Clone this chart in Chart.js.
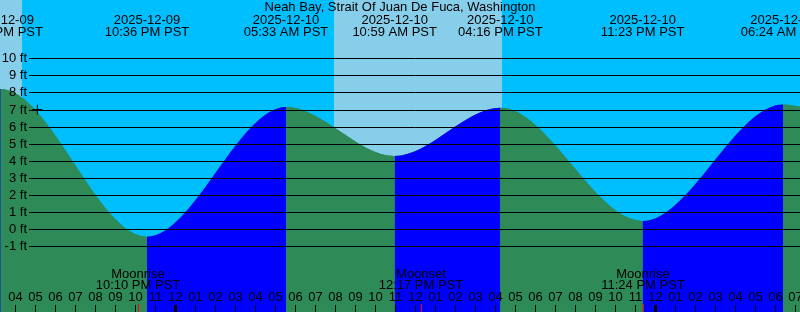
<!DOCTYPE html>
<html>
<head>
<meta charset="utf-8">
<script src="https://cdn.jsdelivr.net/npm/chart.js@4.4.0/dist/chart.umd.min.js"></script>
<style>
  html, body { margin: 0; padding: 0; background: #00bfff; }
  #wrap { width: 800px; height: 312px; }
</style>
</head>
<body>
<div id="wrap"><canvas id="tide"></canvas></div>
<script>
// hours counted from 2025-12-10 00:00 PST
const tideHours = [-14.0, -8.717, -1.40, 5.55, 10.983, 16.267, 23.383, 30.40, 35.8];
const tideFeet  = [4.0, 8.2, -0.44, 7.15, 4.28, 7.1, 0.48, 7.3, 4.2];
const tideDates = ['2025-12-09', '2025-12-09', '2025-12-09', '2025-12-10', '2025-12-10',
                   '2025-12-10', '2025-12-10', '2025-12-11', '2025-12-11'];
const tideTimes = ['10:00 AM PST', '03:17 PM PST', '10:36 PM PST', '05:33 AM PST', '10:59 AM PST',
                   '04:16 PM PST', '11:23 PM PST', '06:24 AM PST', '11:48 AM PST'];

// daylight (sunrise -> sunset)
const dayStarts = [-16.05, 7.95];
const dayEnds   = [-7.65, 16.35];

const moonHours  = [-1.833, 12.283, 23.40];
const moonEvents = ['Moonrise', 'Moonset', 'Moonrise'];
const moonTimes  = ['10:10 PM PST', '12:17 PM PST', '11:24 PM PST'];

const feetTicks = [-1, 0, 1, 2, 3, 4, 5, 6, 7, 8, 9, 10];

const nowHour = -6.88;
const nowFeet = 7.0;

const title = 'Neah Bay, Strait Of Juan De Fuca, Washington';

const NIGHT = '#00bfff', DAY = '#87ceeb';
const FALLING = '#2e8b57', RISING = '#0000ff';
const FONT = '13px "Liberation Sans"';

function hourLabel(h) {
  const hh = ((h % 24) + 24) % 24;
  const h12 = hh % 12 === 0 ? 12 : hh % 12;
  return String(h12).padStart(2, '0');
}

const tidePoints = tideHours.map((h, i) => ({ x: h, y: tideFeet[i] }));

const decor = {
  id: 'decor',
  beforeDatasetsDraw(chart) {
    const { ctx, chartArea: a, scales: { x } } = chart;
    ctx.save();
    ctx.fillStyle = NIGHT;
    ctx.fillRect(a.left, a.top, a.width, a.height);
    ctx.fillStyle = DAY;
    dayStarts.forEach((s, i) => {
      const x0 = x.getPixelForValue(s), x1 = x.getPixelForValue(dayEnds[i]);
      ctx.fillRect(x0, a.top, x1 - x0, a.height);
    });
    ctx.restore();
  },
  afterDatasetsDraw(chart) {
    const { ctx, chartArea: a, scales: { x, y } } = chart;
    ctx.save();
    ctx.font = FONT;
    ctx.fillStyle = '#000';
    ctx.strokeStyle = '#000';
    ctx.lineWidth = 1;

    // level lines + labels
    ctx.textAlign = 'right';
    ctx.textBaseline = 'middle';
    feetTicks.forEach(v => {
      const yy = Math.round(y.getPixelForValue(v)) + 0.5;
      ctx.beginPath();
      ctx.moveTo(29, yy);
      ctx.lineTo(a.right, yy);
      ctx.stroke();
      ctx.fillText(v + ' ft', 27, yy);
    });

    // moon events
    ctx.textAlign = 'center';
    ctx.textBaseline = 'alphabetic';
    moonHours.forEach((h, i) => {
      const px = Math.round(x.getPixelForValue(h));
      ctx.fillStyle = '#ff0000';
      ctx.fillRect(px, 304, 1, 8);
      ctx.fillStyle = '#000';
      ctx.fillText(moonEvents[i], px, 277.5);
      ctx.fillText(moonTimes[i], px, 288.5);
    });

    // hour ticks
    for (let h = Math.ceil(x.min); h <= Math.floor(x.max); h++) {
      const px = Math.round(x.getPixelForValue(h));
      const mid = ((h % 24) + 24) % 24 === 0;
      ctx.fillRect(mid ? px - 1 : px, 305, mid ? 3 : 1, 7);
      ctx.fillText(hourLabel(h), px + 0.5, 300.5);
    }

    // title + tide event labels
    ctx.fillText(title, 400, 11);
    tideHours.forEach((h, i) => {
      const px = x.getPixelForValue(h);
      ctx.fillText(tideDates[i], px, 23.5);
      ctx.fillText(tideTimes[i], px, 36);
    });
    ctx.restore();
  }
};

new Chart(document.getElementById('tide'), {
  type: 'line',
  data: {
    datasets: [
      {
        type: 'scatter',
        data: [{ x: nowHour, y: nowFeet }],
        pointStyle: 'cross',
        pointRadius: 5,
        borderColor: '#000',
        borderWidth: 1,
        order: 0
      },
      {
        // rising / falling water
        data: tidePoints,
        fill: 'start',
        borderWidth: 0,
        borderColor: 'transparent',
        pointRadius: 0,
        cubicInterpolationMode: 'monotone',
        backgroundColor: FALLING,
        segment: {
          backgroundColor: c => (c.p1.parsed.y > c.p0.parsed.y ? RISING : FALLING)
        },
        order: 1
      },
      {
        // plain underlay so segment joins don't show seams
        data: tidePoints,
        fill: 'start',
        borderWidth: 0,
        borderColor: 'transparent',
        pointRadius: 0,
        cubicInterpolationMode: 'monotone',
        backgroundColor: FALLING,
        order: 2
      }
    ]
  },
  options: {
    responsive: true,
    maintainAspectRatio: false,
    animation: false,
    events: [],
    layout: { padding: 0, autoPadding: false },
    plugins: { legend: { display: false }, tooltip: { enabled: false } },
    scales: {
      x: { type: 'linear', min: -8.75, max: 31.25, display: false },
      y: { min: -4.845, max: 13.41, display: false }
    }
  },
  plugins: [decor]
});
</script>
</body>
</html>
